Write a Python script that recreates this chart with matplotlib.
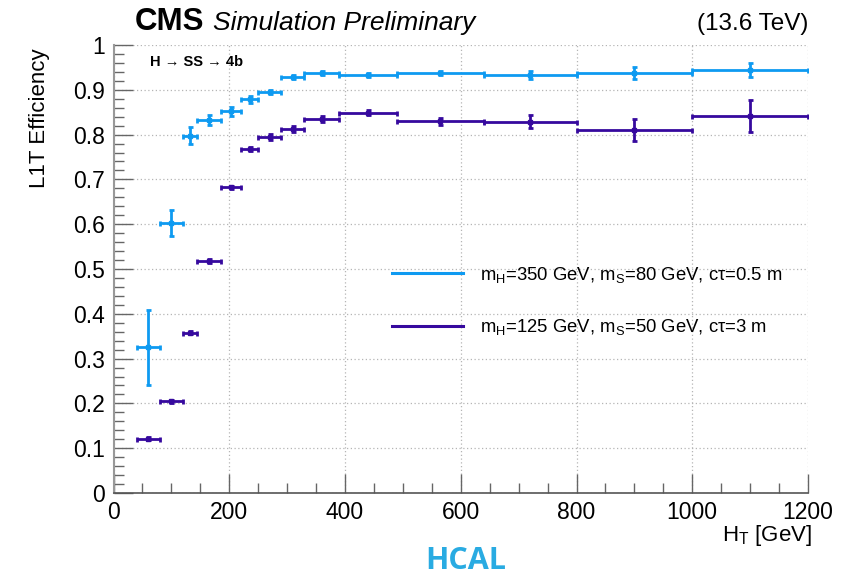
import matplotlib
matplotlib.use("Agg")
import matplotlib.pyplot as plt
import numpy as np
from matplotlib.lines import Line2D
from matplotlib.ticker import MultipleLocator, FormatStrFormatter

plt.rcParams["font.family"] = ["Liberation Sans", "DejaVu Sans"]
plt.rcParams["mathtext.fontset"] = "custom"
plt.rcParams["mathtext.rm"] = "Liberation Sans"

# H_T bin edges [GeV]
bin_edges = [40, 80, 120, 145, 185, 220, 250, 290, 330, 390, 490, 640, 800, 1000, 1200]

# mH=350 GeV, mS=80 GeV, ctau=0.5 m
eff_350 = [0.325, 0.603, 0.797, 0.832, 0.852, 0.879, 0.895, 0.929, 0.938, 0.933, 0.938, 0.933, 0.937, 0.944]
err_350 = [0.083, 0.029, 0.019, 0.011, 0.010, 0.008, 0.005, 0.004, 0.004, 0.004, 0.005, 0.009, 0.013, 0.016]

# mH=125 GeV, mS=50 GeV, ctau=3 m
eff_125 = [0.121, 0.205, 0.358, 0.518, 0.682, 0.768, 0.795, 0.812, 0.835, 0.849, 0.830, 0.829, 0.810, 0.841]
err_125 = [0.003, 0.003, 0.004, 0.004, 0.004, 0.005, 0.006, 0.007, 0.007, 0.006, 0.008, 0.014, 0.024, 0.036]

labels = [
    r"m$_\mathregular{H}$=350 GeV, m$_\mathregular{S}$=80 GeV, cτ=0.5 m",
    r"m$_\mathregular{H}$=125 GeV, m$_\mathregular{S}$=50 GeV, cτ=3 m",
]
colors = ["#0E9AF1", "#36099E"]

edges = np.array(bin_edges, dtype=float)
centers = 0.5 * (edges[:-1] + edges[1:])
half_w = 0.5 * (edges[1:] - edges[:-1])

fig = plt.figure(figsize=(8.56, 5.78), dpi=100)
ax = fig.add_axes([113.5 / 856, 85 / 578, 694.5 / 856, 448 / 578])

for eff, err, c in [(eff_350, err_350, colors[0]), (eff_125, err_125, colors[1])]:
    ax.errorbar(centers, eff, xerr=half_w, yerr=err, fmt="s", color=c,
                markersize=3.2, elinewidth=2.0, capsize=1.8, capthick=2.0,
                zorder=3)

ax.set_xlim(0, 1200)
ax.set_ylim(0, 1)
ax.xaxis.set_major_locator(MultipleLocator(200))
ax.xaxis.set_minor_locator(MultipleLocator(50))
ax.yaxis.set_major_locator(MultipleLocator(0.1))
ax.yaxis.set_minor_locator(MultipleLocator(0.02))
ax.yaxis.set_major_formatter(FormatStrFormatter("%g"))

ax.grid(True, which="major", linestyle=(0, (1, 2)), color="#b5b5b5", linewidth=0.9)
ax.tick_params(which="both", direction="in", labelsize=16.5, colors="#666666",
               labelcolor="black", top=False, right=False)
ax.tick_params(which="major", length=14, width=1.0, pad=6)
ax.tick_params(which="minor", length=7, width=1.0)
for s in ["top", "right"]:
    ax.spines[s].set_visible(False)
ax.spines["left"].set_color("#999999")
ax.spines["bottom"].set_color("#555555")
ax.spines["left"].set_linewidth(1.5)
ax.spines["bottom"].set_linewidth(1.2)

handles = [Line2D([], [], color=c, lw=2.2) for c in colors]
ax.legend(handles, labels, loc="center left", bbox_to_anchor=(0.401, 0.4285),
          frameon=False, fontsize=13.3, handlelength=3.85, handletextpad=0.92,
          labelspacing=1.75, borderpad=0, borderaxespad=0)

ax.text(0.053, 0.961, "H → SS → 4b", transform=ax.transAxes,
        fontsize=10.5, fontweight="bold", va="center", ha="left")

fig.text(135 / 856, 1 - 30 / 578, "CMS", fontsize=22.5, fontweight="bold",
         ha="left", va="baseline")
fig.text(213 / 856, 1 - 30 / 578, "Simulation Preliminary", fontsize=19,
         style="italic", ha="left", va="baseline")
fig.text(808 / 856, 1 - 30 / 578, "(13.6 TeV)", fontsize=17.5,
         ha="right", va="baseline")

fig.text(40 / 856, 1 - 48 / 578, "L1T Efficiency", fontsize=16, rotation=90,
         ha="center", va="top")
fig.text(812 / 856, 1 - 535 / 578, r"H$_\mathregular{T}$ [GeV]", fontsize=16,
         ha="right", va="center")

fig.text(466 / 856, 1 - 561 / 578, "HCAL", fontsize=22, fontweight="bold",
         family=["Open Sans", "DejaVu Sans"], color="#29ABE2",
         ha="center", va="center")

fig.savefig("out.png", dpi=100)
